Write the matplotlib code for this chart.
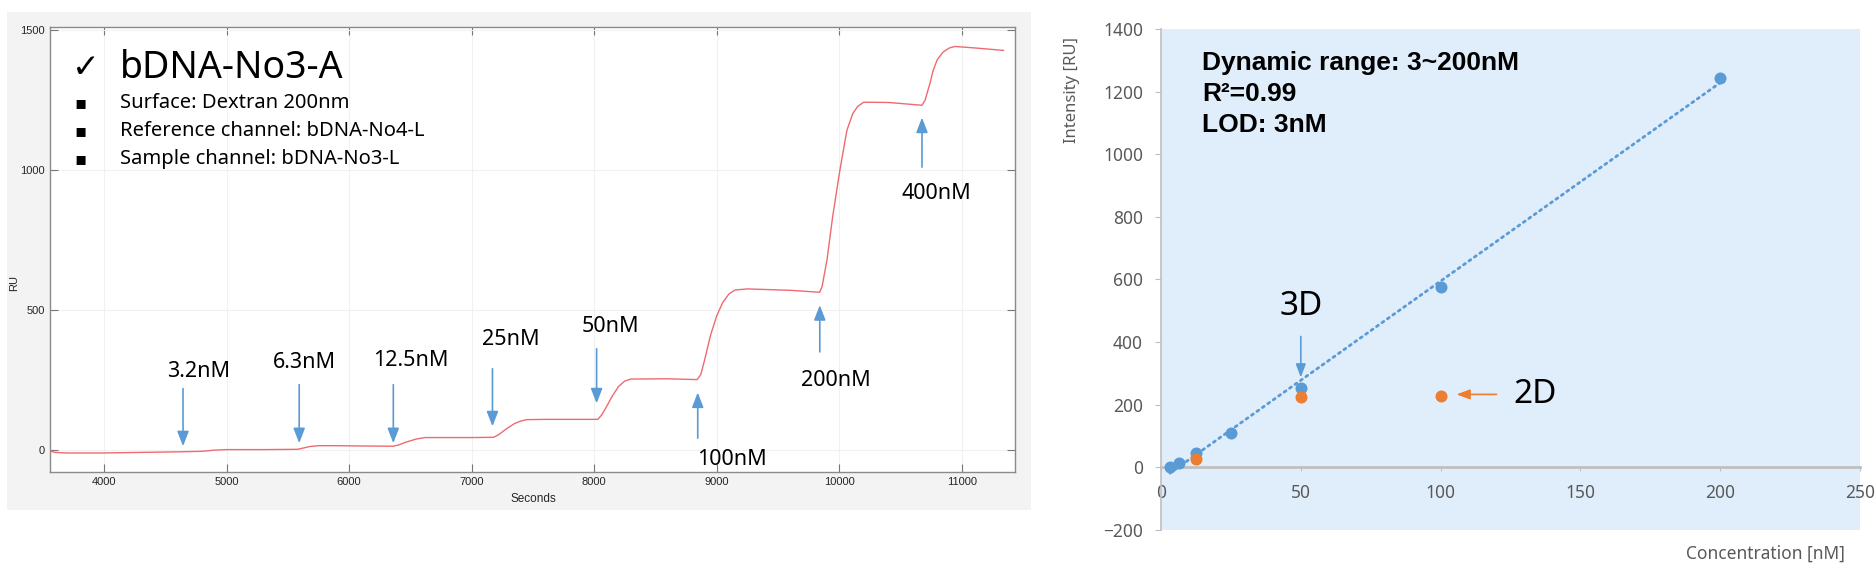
import numpy as np
import matplotlib
matplotlib.use("Agg")
import matplotlib.pyplot as plt
from matplotlib.patches import Rectangle

plt.rcParams["font.family"] = ["Noto Sans", "DejaVu Sans"]

# sensorgram (seconds, RU)
sensor_t = [3560, 3600, 3700, 4000, 4300, 4600, 4800, 4900, 5000, 5300, 5580, 5620,
            5680, 5750, 5900, 6100, 6360, 6400, 6460, 6550, 6620, 7000, 7180, 7220,
            7280, 7350, 7400, 7450, 7600, 8030, 8060, 8100, 8150, 8200, 8250, 8300,
            8600, 8840, 8870, 8900, 8950, 9000, 9050, 9100, 9150, 9250, 9600, 9840,
            9860, 9900, 9947, 10005, 10062, 10110, 10150, 10200, 10400, 10675, 10700,
            10740, 10765, 10800, 10847, 10900, 10945, 11100, 11340]
sensor_ru = [-3, -8, -10, -10, -8, -6, -4, 0, 2, 2, 3, 7,
             13, 16, 16, 15, 14, 18, 28, 40, 45, 45, 46, 55,
             75, 95, 104, 109, 110, 110, 125, 155, 195, 228, 247, 254,
             255, 252, 270, 320, 411, 480, 528, 558, 572, 576, 571, 564,
             585, 680, 837, 1000, 1142, 1202, 1228, 1243, 1242, 1232, 1250,
             1310, 1355, 1395, 1422, 1437, 1442, 1437, 1428]

inject_t = [4645, 5593, 6361, 7170, 8020, 8845, 9841, 10675]
inject_labels = ["3.2nM", "6.3nM", "12.5nM", "25nM", "50nM", "100nM", "200nM", "400nM"]

# calibration
conc_3d = [3.2, 6.3, 12.5, 25, 50, 100, 200]
int_3d = [0, 15, 47, 110, 252, 575, 1245]
conc_2d = [12.5, 50, 100]
int_2d = [26, 226, 228]

BLUE = "#5b9bd5"
ORANGE = "#ed7d31"

fig = plt.figure(figsize=(18.75, 5.74), dpi=100)

# grey panel behind the left chart
fig.add_artist(Rectangle((0.0037, 0.1115), 0.546, 0.8676, transform=fig.transFigure,
                         facecolor="#f3f3f3", edgecolor="none", zorder=0))

ax = fig.add_axes([0.0267, 0.1777, 0.5147, 0.7745])
ax.set_facecolor("white")
ax.plot(sensor_t, sensor_ru, color="#ee6a70", lw=1.0, zorder=3)
ax.set_xlim(3560, 11435)
ax.set_ylim(-78, 1510)
ax.set_xticks(range(4000, 11001, 1000))
ax.set_yticks([0, 500, 1000, 1500])
ax.grid(True, color="#f1f1f1", lw=0.8)
ax.tick_params(direction="in", length=6, top=True, right=True, labelsize=8,
               colors="#777777", labelcolor="#262626")
for lab in ax.get_xticklabels() + ax.get_yticklabels():
    lab.set_family("Liberation Sans")
for sp in ax.spines.values():
    sp.set_color("#8a8a8a")
    sp.set_linewidth(1.0)

# arrow geometry: (tail RU, tip RU, label x, label y)
arrow_geom = [(220, 14, 4776, 280), (234, 25, 5634, 312), (234, 25, 6500, 319),
              (291, 85, 7317, 394), (362, 167, 8134, 443), (43, 206, 9123, -32),
              (351, 518, 9972, 248), (1011, 1188, 10789, 918)]
for t, lab, (tail, tip, lx, ly) in zip(inject_t, inject_labels, arrow_geom):
    ax.annotate("", xy=(t, tip), xytext=(t, tail),
                arrowprops=dict(arrowstyle="-|>,head_length=0.9,head_width=0.35",
                                color=BLUE, lw=1.2, shrinkA=0, shrinkB=0), zorder=4)
    ax.text(lx, ly, lab, fontsize=15.5, ha="center", va="center", color="black", zorder=5)

# info block
fig.text(86 / 1875, 1 - 68 / 574, "\u2713", family="DejaVu Sans", fontsize=24,
         ha="center", va="center")
fig.text(120 / 1875, 1 - 68 / 574, "bDNA-No3-A", fontsize=27, ha="left", va="center")
bullets = ["Surface: Dextran 200nm", "Reference channel: bDNA-No4-L",
           "Sample channel: bDNA-No3-L"]
for i, line in enumerate(bullets):
    y = 1 - (103 + 28 * i) / 574
    fig.text(80 / 1875, y, "\u25aa", family="DejaVu Sans", fontsize=13, ha="center", va="center")
    fig.text(120 / 1875, y, line, fontsize=14.5, ha="left", va="center")

fig.text(14 / 1875, 1 - 283 / 574, "RU", family="Liberation Sans", fontsize=8,
         rotation=90, ha="center", va="center", color="#262626")
fig.text(533 / 1875, 1 - 499 / 574, "Seconds", family="Liberation Sans", fontsize=8.5,
         ha="center", va="center", color="#262626")

# calibration chart
ax2 = fig.add_axes([0.6192, 0.0767, 0.3728, 0.8728])
ax2.set_facecolor("#e0eefb")
ax2.set_xlim(0, 250)
ax2.set_ylim(-200, 1400)
ax2.set_xticks(range(0, 251, 50))
ax2.set_yticks(range(-200, 1401, 200))
ax2.spines["top"].set_visible(False)
ax2.spines["right"].set_visible(False)
ax2.spines["bottom"].set_position(("data", 0))
ax2.spines["bottom"].set_color("#bfbfbf")
ax2.spines["bottom"].set_linewidth(2)
ax2.spines["left"].set_color("#bfbfbf")
ax2.spines["left"].set_linewidth(1.2)
ax2.tick_params(axis="y", direction="out", length=4, pad=9, colors="#bfbfbf",
                labelcolor="#595959", labelsize=12.5)
ax2.tick_params(axis="x", direction="out", length=3, pad=9, colors="#bfbfbf",
                labelcolor="#595959", labelsize=12.5)

coef = np.polyfit(conc_3d, int_3d, 1)
fit_x = np.array([conc_3d[0], conc_3d[-1]])
ax2.plot(fit_x, np.polyval(coef, fit_x), color=BLUE, lw=2,
         linestyle=(0, (0.8, 1.6)), dash_capstyle="round", zorder=2)
ax2.scatter(conc_3d, int_3d, s=75, color=BLUE, zorder=3, linewidths=0)
ax2.scatter(conc_2d, int_2d, s=75, color=ORANGE, zorder=4, linewidths=0)

ax2.text(50, 514, "3D", fontsize=24, ha="center", va="center")
ax2.annotate("", xy=(50, 287), xytext=(50, 418),
             arrowprops=dict(arrowstyle="-|>,head_length=0.8,head_width=0.3",
                             color=BLUE, lw=1.2, shrinkA=0, shrinkB=0))
ax2.text(126, 233, "2D", fontsize=24, ha="left", va="center")
ax2.annotate("", xy=(105.7, 233), xytext=(120, 233),
             arrowprops=dict(arrowstyle="-|>,head_length=0.8,head_width=0.3",
                             color=ORANGE, lw=1.2, shrinkA=0, shrinkB=0))

summary = ["Dynamic range: 3~200nM", "R\u00b2=0.99", "LOD: 3nM"]
for i, line in enumerate(summary):
    fig.text(1202 / 1875, 1 - (63 + 31 * i) / 574, line, fontsize=19,
             family="Liberation Sans", fontweight="bold", ha="left", va="center")

fig.text(1072 / 1875, 1 - 90 / 574, "Intensity [RU]", fontsize=12, rotation=90,
         ha="center", va="center", color="#595959")
fig.text(1845 / 1875, 1 - 554 / 574, "Concentration [nM]", fontsize=12.5,
         ha="right", va="center", color="#595959")

fig.savefig("out.png", dpi=100)
